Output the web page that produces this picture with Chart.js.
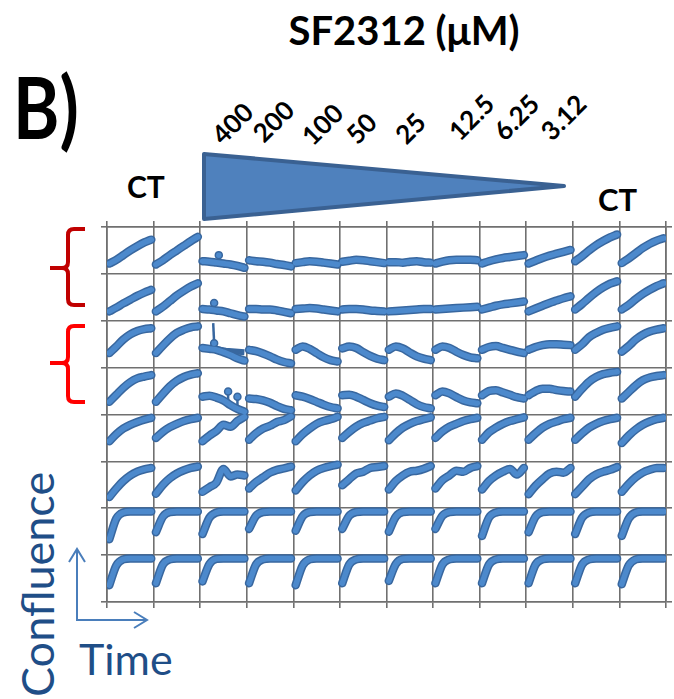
<!DOCTYPE html>
<html>
<head>
<meta charset="utf-8">
<script src="https://cdn.jsdelivr.net/npm/chart.js@4.4.1/dist/chart.umd.min.js"></script>
<style>
  body { margin: 0; width: 674px; height: 699px; overflow: hidden; background: #fff; position: relative; font-family: Lato, "Open Sans", sans-serif; }
  #wells, #deco { position: absolute; left: 0; top: 0; }
  .t { position: absolute; white-space: nowrap; line-height: 1; }
  .bold { font-weight: 700; color: #000; }
  .dose { position: absolute; white-space: nowrap; line-height: 1; font-weight: 700; font-size: 26px; transform: translate(-50%, -50%) rotate(-45deg); }
  .axisname { color: #1f4e87; font-weight: 400; }
</style>
</head>
<body>

<svg id="deco" width="674" height="699">
  <!-- dose gradient wedge -->
  <polygon points="204,154 204,219 564,186" fill="#4f81bd" stroke="#3a6192" stroke-width="4" stroke-linejoin="round"/>
  <!-- replicate braces -->
  <path d="M85,229 L74,229 Q68,229 68,235 L68,262 Q68,268 62,268 L50,268 M62,268 Q68,268 68,274 L68,299 Q68,305 74,305 L85,305"
        fill="none" stroke="#c00000" stroke-width="4"/>
  <path d="M85,326 L74,326 Q68,326 68,332 L68,357 Q68,363 62,363 L50,363 M62,363 Q68,363 68,369 L68,396 Q68,402 74,402 L85,402"
        fill="none" stroke="#ff0000" stroke-width="4"/>
  <!-- confluence / time axes arrows -->
  <g fill="none" stroke="#4a7ebb" stroke-width="2">
    <path d="M77,549 L77,620 L147,620"/>
    <path d="M69,562 L77,549 L85,562"/>
    <path d="M134,612 L147,620 L134,628"/>
  </g>
</svg>

<div class="t bold" style="left:404px;top:10px;font-size:40px;transform:translateX(-50%)">SF2312 (μM)</div>
<div class="t bold" style="left:13px;top:63px;font-size:86px;transform-origin:0 0;transform:scaleX(0.82)">B)</div>
<div class="t bold" style="left:127px;top:171px;font-size:30px">CT</div>
<div class="t bold" style="left:598px;top:184px;font-size:31px">CT</div>
<div class="t bold" style="left:-14px;top:262px;font-size:40px;color:#c00000;font-weight:400">)</div>
<div class="t bold" style="left:-14px;top:357px;font-size:40px;color:#ff0000;font-weight:400">)</div>
<div id="doses"></div>
<div class="t axisname" style="left:15px;top:697px;font-size:45px;transform-origin:0 0;transform:rotate(-90deg)">Confluence</div>
<div class="t axisname" style="left:79px;top:637px;font-size:43px">Time</div>

<canvas id="wells" width="674" height="699"></canvas>

<script>
// ================= DATA =================
const doseLabels = ["400", "200", "100", "50", "25", "12.5", "6.25", "3.12"];
const doseCenters = [[232, 123], [273, 121], [322, 124], [361, 128], [410, 128], [471, 117], [516, 117], [563, 117]];

// sampling times inside one well (fraction of the well's time window)
const sampleTimes = [0.05, 0.2, 0.35, 0.5, 0.65, 0.8, 0.95];

// confluence per well, relative to the well's height; 12 wells per plate row
const rowA = [
  [0.22, 0.30, 0.40, 0.50, 0.59, 0.67, 0.73],
  [0.20, 0.29, 0.40, 0.50, 0.60, 0.70, 0.79],
  [0.27, 0.26, 0.24, 0.22, 0.20, 0.17, 0.13],
  [0.29, 0.27, 0.26, 0.24, 0.21, 0.19, 0.16],
  [0.23, 0.25, 0.27, 0.26, 0.24, 0.22, 0.20],
  [0.26, 0.28, 0.30, 0.29, 0.27, 0.25, 0.23],
  [0.25, 0.25, 0.24, 0.26, 0.27, 0.25, 0.24],
  [0.22, 0.26, 0.29, 0.30, 0.30, 0.30, 0.29],
  [0.22, 0.27, 0.31, 0.34, 0.36, 0.38, 0.40],
  [0.22, 0.28, 0.34, 0.39, 0.43, 0.47, 0.51],
  [0.27, 0.38, 0.50, 0.61, 0.70, 0.78, 0.84],
  [0.23, 0.33, 0.44, 0.55, 0.64, 0.71, 0.76]
];
const rowB = [
  [0.20, 0.28, 0.37, 0.45, 0.53, 0.60, 0.66],
  [0.20, 0.30, 0.42, 0.54, 0.64, 0.73, 0.80],
  [0.25, 0.24, 0.22, 0.20, 0.16, 0.12, 0.09],
  [0.25, 0.25, 0.24, 0.24, 0.22, 0.19, 0.16],
  [0.25, 0.26, 0.27, 0.26, 0.24, 0.22, 0.20],
  [0.24, 0.25, 0.25, 0.24, 0.22, 0.21, 0.20],
  [0.20, 0.21, 0.22, 0.23, 0.24, 0.25, 0.25],
  [0.24, 0.25, 0.26, 0.27, 0.28, 0.29, 0.30],
  [0.24, 0.28, 0.32, 0.35, 0.37, 0.39, 0.41],
  [0.20, 0.26, 0.32, 0.38, 0.43, 0.48, 0.52],
  [0.24, 0.36, 0.49, 0.61, 0.71, 0.79, 0.84],
  [0.24, 0.34, 0.46, 0.57, 0.66, 0.74, 0.80]
];
const rowC = [
  [0.31, 0.45, 0.60, 0.71, 0.78, 0.82, 0.84],
  [0.31, 0.47, 0.62, 0.74, 0.81, 0.86, 0.88],
  [0.42, 0.40, 0.38, 0.33, 0.27, 0.20, 0.15],
  [0.38, 0.35, 0.30, 0.24, 0.17, 0.12, 0.09],
  [0.38, 0.45, 0.40, 0.31, 0.22, 0.16, 0.13],
  [0.41, 0.45, 0.42, 0.33, 0.25, 0.19, 0.16],
  [0.38, 0.45, 0.41, 0.32, 0.24, 0.19, 0.16],
  [0.38, 0.45, 0.42, 0.34, 0.27, 0.22, 0.20],
  [0.38, 0.44, 0.46, 0.42, 0.38, 0.34, 0.31],
  [0.38, 0.44, 0.48, 0.50, 0.50, 0.49, 0.48],
  [0.38, 0.50, 0.65, 0.74, 0.81, 0.85, 0.88],
  [0.34, 0.46, 0.60, 0.70, 0.77, 0.81, 0.84]
];
const rowD = [
  [0.27, 0.42, 0.57, 0.69, 0.77, 0.81, 0.84],
  [0.27, 0.44, 0.60, 0.72, 0.80, 0.85, 0.88],
  [0.38, 0.40, 0.36, 0.30, 0.20, 0.12, 0.06],
  [0.34, 0.33, 0.30, 0.25, 0.18, 0.12, 0.09],
  [0.41, 0.38, 0.33, 0.27, 0.21, 0.16, 0.13],
  [0.41, 0.42, 0.38, 0.31, 0.24, 0.19, 0.16],
  [0.38, 0.45, 0.40, 0.31, 0.22, 0.16, 0.13],
  [0.41, 0.49, 0.45, 0.37, 0.30, 0.26, 0.24],
  [0.41, 0.50, 0.52, 0.47, 0.42, 0.37, 0.34],
  [0.41, 0.50, 0.55, 0.55, 0.52, 0.50, 0.49],
  [0.38, 0.55, 0.70, 0.80, 0.86, 0.89, 0.91],
  [0.34, 0.48, 0.62, 0.73, 0.79, 0.82, 0.84]
];
const rowE = [
  [0.43, 0.58, 0.70, 0.78, 0.84, 0.89, 0.93],
  [0.50, 0.63, 0.73, 0.80, 0.86, 0.90, 0.93],
  [0.43, 0.55, 0.65, 0.78, 0.74, 0.86, 0.95],
  [0.46, 0.60, 0.70, 0.76, 0.84, 0.88, 0.96],
  [0.43, 0.58, 0.70, 0.80, 0.86, 0.90, 0.95],
  [0.50, 0.63, 0.74, 0.82, 0.87, 0.92, 0.95],
  [0.45, 0.60, 0.72, 0.80, 0.86, 0.90, 0.94],
  [0.50, 0.64, 0.74, 0.80, 0.86, 0.90, 0.93],
  [0.46, 0.62, 0.72, 0.80, 0.86, 0.90, 0.94],
  [0.46, 0.60, 0.72, 0.80, 0.85, 0.90, 0.93],
  [0.46, 0.60, 0.72, 0.80, 0.86, 0.90, 0.93],
  [0.39, 0.55, 0.68, 0.78, 0.85, 0.90, 0.93]
];
const rowF = [
  [0.24, 0.42, 0.58, 0.70, 0.78, 0.83, 0.86],
  [0.31, 0.50, 0.64, 0.74, 0.81, 0.86, 0.89],
  [0.35, 0.45, 0.55, 0.84, 0.68, 0.72, 0.70],
  [0.42, 0.56, 0.66, 0.76, 0.82, 0.85, 0.89],
  [0.38, 0.56, 0.70, 0.80, 0.86, 0.90, 0.93],
  [0.49, 0.62, 0.74, 0.78, 0.86, 0.88, 0.90],
  [0.40, 0.58, 0.70, 0.78, 0.80, 0.84, 0.90],
  [0.42, 0.60, 0.70, 0.80, 0.78, 0.86, 0.90],
  [0.40, 0.58, 0.70, 0.78, 0.84, 0.72, 0.86],
  [0.30, 0.48, 0.62, 0.74, 0.78, 0.76, 0.86],
  [0.30, 0.46, 0.62, 0.72, 0.78, 0.82, 0.88],
  [0.35, 0.52, 0.66, 0.76, 0.82, 0.86, 0.86]
];
const rowG = [
  [0.34, 0.78, 0.91, 0.93, 0.93, 0.93, 0.93],
  [0.49, 0.82, 0.92, 0.93, 0.93, 0.93, 0.93],
  [0.45, 0.80, 0.91, 0.93, 0.93, 0.93, 0.93],
  [0.56, 0.84, 0.92, 0.93, 0.93, 0.93, 0.93],
  [0.52, 0.83, 0.92, 0.93, 0.93, 0.93, 0.93],
  [0.56, 0.84, 0.92, 0.93, 0.93, 0.93, 0.93],
  [0.50, 0.82, 0.92, 0.93, 0.93, 0.93, 0.93],
  [0.56, 0.84, 0.92, 0.93, 0.93, 0.93, 0.93],
  [0.41, 0.80, 0.91, 0.93, 0.93, 0.93, 0.93],
  [0.49, 0.82, 0.92, 0.93, 0.93, 0.93, 0.93],
  [0.45, 0.80, 0.91, 0.93, 0.93, 0.93, 0.93],
  [0.41, 0.78, 0.91, 0.93, 0.93, 0.93, 0.93]
];
const rowH = [
  [0.36, 0.78, 0.91, 0.93, 0.93, 0.93, 0.93],
  [0.40, 0.80, 0.91, 0.93, 0.93, 0.93, 0.93],
  [0.44, 0.81, 0.92, 0.93, 0.93, 0.93, 0.93],
  [0.40, 0.80, 0.91, 0.93, 0.93, 0.93, 0.93],
  [0.36, 0.78, 0.91, 0.93, 0.93, 0.93, 0.93],
  [0.40, 0.80, 0.91, 0.93, 0.93, 0.93, 0.93],
  [0.45, 0.81, 0.92, 0.93, 0.93, 0.93, 0.93],
  [0.40, 0.80, 0.91, 0.93, 0.93, 0.93, 0.93],
  [0.40, 0.80, 0.91, 0.93, 0.93, 0.93, 0.93],
  [0.40, 0.80, 0.91, 0.93, 0.93, 0.93, 0.93],
  [0.40, 0.80, 0.91, 0.93, 0.93, 0.93, 0.93],
  [0.38, 0.78, 0.91, 0.93, 0.93, 0.93, 0.93]
];
const plateRows = [rowA, rowB, rowC, rowD, rowE, rowF, rowG, rowH];

// outlier reads in the 400 uM wells: [row, well, times, values, dot on last read]
const strayReads = [
  [0, 2, [0.40, 0.40], [0.24, 0.40], true],
  [1, 2, [0.30, 0.30], [0.23, 0.38], true],
  [2, 2, [0.28, 0.30], [0.95, 0.52], true],
  [2, 2, [0.32, 0.55, 0.95], [0.40, 0.36, 0.33], false],
  [3, 2, [0.60, 0.60], [0.28, 0.49], true],
  [3, 2, [0.80, 0.80], [0.18, 0.38], true]
];

// ================= LABELS =================
const doses = document.getElementById("doses");
doseLabels.forEach((txt, i) => {
  doses.innerHTML += `<div class="dose" style="left:${doseCenters[i][0]}px;top:${doseCenters[i][1]}px">${txt}</div>`;
});

// ================= CHART =================
const ROWS = plateRows.length;
const EDGE = "#38679f";
const CORE = "#4c89cc";

function rowPoints(r) {
  const pts = [];
  plateRows[r].forEach((well, c) => {
    well.forEach((v, i) => pts.push({ x: c + sampleTimes[i], y: ROWS - 1 - r + v }));
    pts.push({ x: c + 1, y: null }); // break between wells
  });
  return pts;
}

const datasets = [];
plateRows.forEach((_, r) => {
  const data = rowPoints(r);
  datasets.push({ data, borderColor: CORE, borderWidth: 5.5, pointRadius: 0, order: 0, cubicInterpolationMode: "monotone", borderCapStyle: "round" });
  datasets.push({ data, borderColor: EDGE, borderWidth: 8.5, pointRadius: 0, order: 2, cubicInterpolationMode: "monotone", borderCapStyle: "round" });
});
strayReads.forEach(([r, c, ts, vs, dot]) => {
  const data = ts.map((t, i) => ({ x: c + t, y: ROWS - 1 - r + vs[i] }));
  const last = data.length - 1;
  datasets.push({
    data, borderColor: EDGE, borderWidth: dot ? 2.5 : 6, order: 1,
    pointRadius: ctx => (dot && ctx.dataIndex === last ? 3.5 : 0),
    pointBackgroundColor: CORE, pointBorderColor: EDGE, pointBorderWidth: 1.5
  });
});

const gridStyle = { color: "#707070", lineWidth: 1.6, tickLength: 6, tickColor: "#707070" };
const noFit = (prop) => (scale) => { scale[prop] = 0; };

new Chart(document.getElementById("wells"), {
  type: "line",
  data: { datasets },
  options: {
    responsive: false,
    animation: false,
    layout: { padding: { left: 107, top: 227, right: 8, bottom: 97 } },
    plugins: { legend: { display: false }, tooltip: { enabled: false } },
    scales: {
      x: {
        type: "linear", min: 0, max: 12,
        ticks: { stepSize: 1, display: false },
        grid: gridStyle, border: { color: "#707070", width: 1.6 },
        afterFit: noFit("height")
      },
      xTop: {
        type: "linear", axis: "x", position: "top", min: 0, max: 12,
        ticks: { stepSize: 1, display: false },
        grid: { ...gridStyle, drawOnChartArea: false }, border: { color: "#707070", width: 1.6 },
        afterFit: noFit("height")
      },
      y: {
        type: "linear", min: 0, max: ROWS,
        ticks: { stepSize: 1, display: false },
        grid: gridStyle, border: { color: "#707070", width: 1.6 },
        afterFit: noFit("width")
      },
      yRight: {
        type: "linear", axis: "y", position: "right", min: 0, max: ROWS,
        ticks: { stepSize: 1, display: false },
        grid: { ...gridStyle, drawOnChartArea: false }, border: { color: "#707070", width: 1.6 },
        afterFit: noFit("width")
      }
    }
  }
});
</script>
</body>
</html>
